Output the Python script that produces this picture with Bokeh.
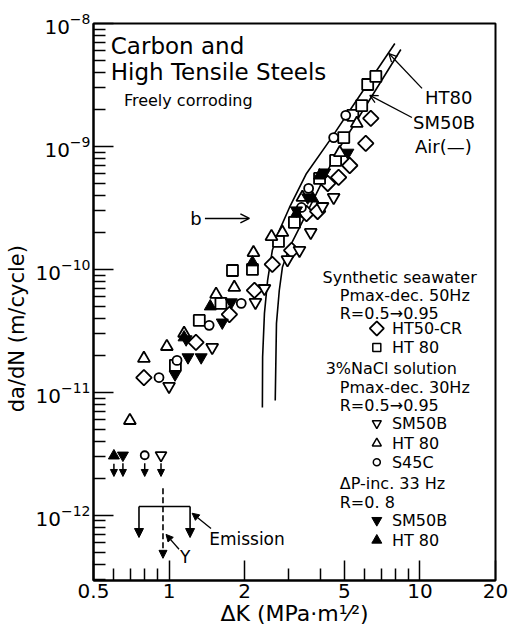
import math
from bokeh.plotting import figure
from bokeh.models import (FixedTicker, Range1d, Label, Arrow, NormalHead, OpenHead,
                          CustomJSTickFormatter)
from bokeh.embed import file_html
from bokeh.resources import INLINE

FONT = "DejaVu Sans"

# ---------------- data ----------------
# Air curves (lines)
air_ht80_dk = [2.355, 2.36, 2.40, 2.47, 2.58, 2.75, 3.02, 3.53, 4.37, 5.25, 7.94]
air_ht80_rate = [7.55e-12, 1.93e-11, 4.39e-11, 8.1e-11, 1.43e-10, 2.07e-10, 3.19e-10,
                 6.03e-10, 1.12e-9, 1.96e-9, 6.87e-9]
air_sm50b_dk = [2.65, 2.68, 2.75, 2.83, 3.02, 3.31, 3.87, 4.70, 5.35, 8.39]
air_sm50b_rate = [8.6e-12, 3.64e-11, 6.74e-11, 1.04e-10, 1.51e-10, 2.19e-10, 4.15e-10,
                  9.27e-10, 1.40e-9, 6.15e-9]

# Synthetic seawater, HT50-CR (diamonds)
sw_ht50_dk = [0.794, 1.28, 1.74, 2.19, 2.58, 3.08, 3.53, 3.91, 4.29, 4.74, 5.25, 6.08, 6.37]
sw_ht50_rate = [1.32e-11, 2.55e-11, 4.3e-11, 6.75e-11, 1.1e-10, 1.43e-10, 2.85e-10,
                2.96e-10, 5.0e-10, 5.6e-10, 7.0e-10, 1.06e-9, 1.69e-9]
# Synthetic seawater, HT80 (squares)
sw_ht80_dk = [1.06, 1.32, 1.61, 1.79, 2.15, 2.73, 3.16, 3.98, 4.61, 4.97, 5.40, 5.86, 6.19, 6.67]
sw_ht80_rate = [1.66e-11, 3.85e-11, 5.3e-11, 9.8e-11, 1.0e-10, 1.69e-10, 2.41e-10, 5.5e-10,
                7.7e-10, 1.18e-9, 1.79e-9, 2.15e-9, 3.19e-9, 3.71e-9]
# 3% NaCl, S45C (circles)
na_s45c_dk = [0.912, 1.076, 1.445, 1.94, 3.37, 3.60, 4.53, 5.06]
na_s45c_rate = [1.32e-11, 1.82e-11, 3.51e-11, 5.3e-11, 3.19e-10, 4.56e-10, 1.18e-9, 1.79e-9]
# 3% NaCl, HT80 (open up-triangles)
na_ht80_dk = [0.698, 0.794, 0.98, 1.148, 1.54, 1.82, 2.17, 2.56, 2.83, 3.40, 4.79, 5.60]
na_ht80_rate = [5.9e-12, 1.89e-11, 2.36e-11, 3.02e-11, 6.27e-11, 7.14e-11, 1.37e-10,
                1.85e-10, 2.0e-10, 3.85e-10, 8.9e-10, 1.54e-9]
# 3% NaCl, SM50B (open down-triangles)
na_sm50b_dk = [1.0, 1.486, 2.21, 2.40, 2.965, 3.31, 3.67, 4.09, 4.53]
na_sm50b_rate = [1.12e-11, 2.32e-11, 5.4e-11, 7.0e-11, 1.2e-10, 1.43e-10, 2.0e-10,
                 3.25e-10, 3.85e-10]
# dP-inc, SM50B (filled down-triangles)
dp_sm50b_dk = [1.057, 1.17, 1.19, 1.343, 1.63, 1.77, 3.22, 3.57, 4.17, 5.16]
dp_sm50b_rate = [1.4e-11, 2.7e-11, 1.93e-11, 1.93e-11, 3.7e-11, 5.4e-11, 3.02e-10,
                 3.85e-10, 6.15e-10, 8.9e-10]
# dP-inc, HT80 (filled up-triangles)
dp_ht80_dk = [1.148, 1.46, 2.15, 3.22, 3.74, 3.98]
dp_ht80_rate = [2.8e-11, 5.0e-11, 1.14e-10, 2.85e-10, 3.77e-10, 5.8e-10]

# Run-out points (no growth) with downward arrows
ro_dp_ht80 = (0.603, 3.05e-12)
ro_dp_sm50b = (0.655, 3.08e-12)
ro_na_s45c = (0.80, 3.08e-12)
ro_na_sm50b = (0.929, 3.08e-12)
ro_arrow_end = 2.07e-12

x_major = [0.5, 1, 2, 5, 10, 20]
x_minor = [0.6, 0.7, 0.8, 0.9, 3, 4, 6, 7, 8, 9]
y_major = [1e-12, 1e-11, 1e-10, 1e-9, 1e-8]
y_minor = [m * 10.0 ** e for e in range(-13, -8) for m in range(2, 10)]

# ---------------- figure ----------------
p = figure(width=517, height=634, x_axis_type="log", y_axis_type="log",
           x_range=Range1d(0.5, 20), y_range=Range1d(10 ** -12.53, 1e-8),
           output_backend="svg", toolbar_location=None,
           min_border_left=93, min_border_right=22, min_border_top=23, min_border_bottom=54)
p.grid.visible = False
p.outline_line_color = "black"
p.outline_line_width = 2
p.background_fill_color = "white"
p.border_fill_color = "white"

for ax in (p.xaxis[0], p.yaxis[0]):
    ax.axis_line_width = 2
    ax.major_tick_in = 20
    ax.major_tick_out = 0
    ax.minor_tick_in = 12
    ax.minor_tick_out = 0
    ax.major_tick_line_width = 1.5
    ax.minor_tick_line_width = 1.5
    ax.major_label_text_font = FONT
    ax.major_label_text_color = "black"
    ax.major_label_text_font_size = "20px"
    ax.axis_label_text_font = FONT
    ax.axis_label_text_font_style = "normal"
    ax.axis_label_text_color = "black"

p.xaxis.ticker = FixedTicker(ticks=x_major, minor_ticks=x_minor)
p.xaxis.formatter = CustomJSTickFormatter(code="return String(tick)")
p.xaxis.major_label_standoff = 3
p.xaxis.axis_label = "ΔK (MPa·m¹⁄²)"
p.xaxis.axis_label_standoff = 0
p.xaxis.axis_label_text_font_size = "22px"

p.yaxis.ticker = FixedTicker(ticks=y_major, minor_ticks=y_minor)
p.yaxis.major_label_standoff = 3
p.yaxis.axis_label = "da/dN (m/cycle)" + "\u00a0" * 8
p.yaxis.axis_label_standoff = 4
p.yaxis.axis_label_text_font_size = "21px"

# air curves
p.line(air_ht80_dk, air_ht80_rate, line_color="black", line_width=1.6)
p.line(air_sm50b_dk, air_sm50b_rate, line_color="black", line_width=1.6)

LW = 1.8
p.scatter(sw_ht50_dk, sw_ht50_rate, marker="square", angle=math.pi / 4, size=11,
          fill_color="white", line_color="black", line_width=LW)
p.scatter(sw_ht80_dk, sw_ht80_rate, marker="square", size=11,
          fill_color="white", line_color="black", line_width=LW)
p.scatter(na_sm50b_dk, na_sm50b_rate, marker="inverted_triangle", size=12,
          fill_color="white", line_color="black", line_width=LW)
p.scatter(na_ht80_dk, na_ht80_rate, marker="triangle", size=12,
          fill_color="white", line_color="black", line_width=LW)
p.scatter(na_s45c_dk, na_s45c_rate, marker="circle", size=9,
          fill_color="white", line_color="black", line_width=LW)
p.scatter(dp_sm50b_dk, dp_sm50b_rate, marker="inverted_triangle", size=12,
          fill_color="black", line_color="black", line_width=1)
p.scatter(dp_ht80_dk, dp_ht80_rate, marker="triangle", size=12,
          fill_color="black", line_color="black", line_width=1)

# run-out points
p.scatter([ro_dp_ht80[0]], [ro_dp_ht80[1]], marker="triangle", size=11,
          fill_color="black", line_color="black")
p.scatter([ro_dp_sm50b[0]], [ro_dp_sm50b[1]], marker="inverted_triangle", size=11,
          fill_color="black", line_color="black")
p.scatter([ro_na_s45c[0]], [ro_na_s45c[1]], marker="circle", size=8,
          fill_color="white", line_color="black", line_width=LW)
p.scatter([ro_na_sm50b[0]], [ro_na_sm50b[1]], marker="inverted_triangle", size=11,
          fill_color="white", line_color="black", line_width=LW)
for (rx, ry) in (ro_dp_ht80, ro_dp_sm50b, ro_na_s45c, ro_na_sm50b):
    p.add_layout(Arrow(end=NormalHead(size=7, fill_color="black", line_color="black"),
                       x_start=rx, y_start=ry * 0.86, x_end=rx, y_end=ro_arrow_end,
                       line_width=1.5, line_color="black"))


def txt(x, y, s, size="16px", align="left"):
    p.add_layout(Label(x=x, y=y, text=s, text_font=FONT, text_font_size=size,
                       text_align=align, text_baseline="middle", text_color="black"))


# title block
txt(0.586, 6.6e-9, "Carbon and", "23px")
txt(0.586, 4.0e-9, "High Tensile Steels", "23px")
txt(0.661, 2.37e-9, "Freely corroding", "16px")

# air labels
txt(10.47, 2.5e-9, "HT80", "18px")
txt(9.38, 1.57e-9, "SM50B", "18px")
txt(9.55, 1.0e-9, "Air(—)", "18px")
p.add_layout(Arrow(end=OpenHead(size=8, line_color="black", line_width=1.3),
                   x_start=10.19, y_start=2.97e-9, x_end=7.52, y_end=5.7e-9,
                   line_width=1.3, line_color="black"))
p.add_layout(Arrow(end=OpenHead(size=8, line_color="black", line_width=1.3),
                   x_start=9.29, y_start=1.72e-9, x_end=6.31, y_end=2.6e-9,
                   line_width=1.3, line_color="black"))

# b arrow
txt(1.28, 2.6e-10, "b", "18px", "center")
p.add_layout(Arrow(end=OpenHead(size=9, line_color="black", line_width=1.5),
                   x_start=1.39, y_start=2.6e-10, x_end=2.09, y_end=2.6e-10,
                   line_width=1.5, line_color="black"))

# legend block
leg_sym_x = 6.73
leg_txt_x = 7.73
txt(4.09, 8.6e-11, "Synthetic seawater")
txt(4.79, 6.15e-11, "Pmax-dec. 50Hz")
txt(4.79, 4.39e-11, "R=0.5→0.95")
p.scatter([leg_sym_x], [3.31e-11], marker="square", angle=math.pi / 4, size=10,
          fill_color="white", line_color="black", line_width=LW)
txt(leg_txt_x, 3.31e-11, "HT50-CR")
p.scatter([leg_sym_x], [2.32e-11], marker="square", size=8,
          fill_color="white", line_color="black", line_width=1.5)
txt(leg_txt_x, 2.32e-11, "HT 80")
txt(4.21, 1.57e-11, "3%NaCl solution")
txt(4.79, 1.10e-11, "Pmax-dec. 30Hz")
txt(4.79, 7.83e-12, "R=0.5→0.95")
p.scatter([leg_sym_x], [5.6e-12], marker="inverted_triangle", size=9,
          fill_color="white", line_color="black", line_width=1.5)
txt(leg_txt_x, 5.6e-12, "SM50B")
p.scatter([leg_sym_x], [3.85e-12], marker="triangle", size=9,
          fill_color="white", line_color="black", line_width=1.5)
txt(leg_txt_x, 3.85e-12, "HT 80")
p.scatter([leg_sym_x], [2.7e-12], marker="circle", size=7,
          fill_color="white", line_color="black", line_width=1.5)
txt(leg_txt_x, 2.7e-12, "S45C")
txt(4.79, 1.82e-12, "ΔP-inc. 33 Hz")
txt(4.79, 1.28e-12, "R=0. 8")
p.scatter([leg_sym_x], [9.1e-13], marker="inverted_triangle", size=10,
          fill_color="black", line_color="black")
txt(leg_txt_x, 9.1e-13, "SM50B")
p.scatter([leg_sym_x], [6.27e-13], marker="triangle", size=10,
          fill_color="black", line_color="black")
txt(leg_txt_x, 6.27e-13, "HT 80")

# Emission bracket
p.add_layout(Arrow(end=None, x_start=0.759, y_start=1.18e-12, x_end=1.213, y_end=1.18e-12,
                   line_width=1.6, line_color="black"))
for bx in (0.759, 1.213):
    p.add_layout(Arrow(end=NormalHead(size=9, fill_color="black", line_color="black"),
                       x_start=bx, y_start=1.18e-12, x_end=bx, y_end=6.6e-13,
                       line_width=1.6, line_color="black"))
p.add_layout(Arrow(end=NormalHead(size=8, fill_color="black", line_color="black"),
                   x_start=0.946, y_start=1.66e-12, x_end=0.946, y_end=4.47e-13,
                   line_width=1.6, line_color="black", line_dash="6 3"))
txt(1.159, 4.56e-13, "Y", "17px", "center")
p.add_layout(Arrow(end=NormalHead(size=7, fill_color="black", line_color="black"),
                   x_start=1.096, y_start=5.3e-13, x_end=0.973, y_end=7.0e-13,
                   line_width=1.3, line_color="black"))
txt(1.445, 6.4e-13, "Emission", "17px")
p.add_layout(Arrow(end=NormalHead(size=7, fill_color="black", line_color="black"),
                   x_start=1.47, y_start=7.83e-13, x_end=1.236, y_end=1.04e-12,
                   line_width=1.3, line_color="black"))

open("out.html", "w").write(file_html(p, INLINE))
